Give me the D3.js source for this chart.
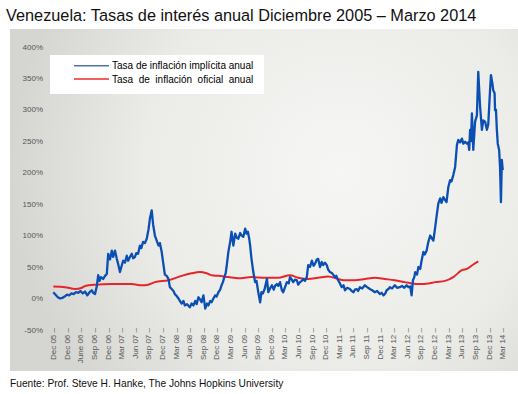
<!DOCTYPE html>
<html>
<head>
<meta charset="utf-8">
<script src="https://cdn.jsdelivr.net/npm/d3@7"></script>
<style>
  body { margin: 0; background: #fff; }
  svg { display: block; font-family: Arial, "Liberation Sans", sans-serif; }
</style>
</head>
<body>
<svg id="chart" width="518" height="394"></svg>
<script>
// quarter tick labels (as printed on the original)
const tickLabels = ['Dec 05', 'Dec 06', 'June 06', 'Sep 06', 'Dec 06', 'Mar 07', 'Jun 07', 'Sep 07', 'Dec 07',
  'Mar 08', 'Jun 08', 'Sep 08', 'Dec 08', 'Mar 09', 'Jun 09', 'Sep 09', 'Dec 09', 'Mar 10', 'Jun 10', 'Sep 10',
  'Dec 10', 'Mar 11', 'Jun 11', 'Sep 11', 'Dec 11', 'Mar 12', 'Jun 12', 'Sep 12', 'Dec 12', 'Mar 13', 'Jun 13',
  'Sep 13', 'Dec 13', 'Mar 14'];
const yTicks = [-50, 0, 50, 100, 150, 200, 250, 300, 350, 400];

// implicit annual inflation: months since Dec 2005, rate in %
const implicitMonth = [0, 0.5, 1, 1.5, 2, 2.5, 3, 3.5, 4, 4.5, 5, 5.5, 6, 6.5, 7, 7.5, 8, 8.5, 8.8, 9.2, 9.6, 9.9, 10.2, 10.5, 11, 11.4, 11.8,
  12.1, 12.5, 12.9, 13.2, 13.6, 14, 14.3, 14.7, 15, 15.4, 15.8, 16.2, 16.5, 16.9, 17.3, 17.6, 18, 18.3, 18.7, 19.1, 19.4, 19.8,
  20.2, 20.6, 21, 21.3, 21.7, 22, 22.4, 22.8, 23.2, 23.5, 23.9, 24.3, 24.6, 25, 25.4, 25.7, 26.1, 26.5, 26.8, 27.2, 27.6, 28,
  28.3, 28.7, 29, 29.5, 30.1, 30.5, 30.9, 31.3, 31.6, 32, 32.4, 32.7, 33.1, 33.5, 33.9, 34.2, 34.6, 34.9, 35.3, 35.7, 36, 36.4,
  36.8, 37.1, 37.4, 37.7, 38, 38.2, 38.6, 39, 39.3, 39.7, 40.1, 40.5, 40.8, 41.2, 41.5, 41.9, 42.3, 42.6, 42.9, 43.2, 43.4, 43.7,
  44.1, 44.5, 44.8, 45.2, 45.6, 45.9, 46.2, 46.6, 47.1, 47.4, 47.8, 48.2, 48.6, 48.9, 49.3, 49.6, 50, 50.4, 50.7, 51.1, 51.5,
  51.9, 52.2, 52.6, 52.9, 53.3, 53.7, 54, 54.4, 54.8, 55.1, 55.5, 55.9, 56.2, 56.6, 57, 57.4, 57.7, 58.1, 58.4, 58.8, 59.2, 59.5,
  59.9, 60.3, 60.6, 61, 61.5, 62.1, 62.4, 62.8, 63.2, 63.6, 64, 64.3, 64.8, 65.4, 65.8, 66.2, 66.5, 66.9, 67.2, 67.6, 68.1, 68.7,
  69.2, 69.8, 70.3, 70.9, 71.4, 72, 72.4, 72.8, 73.2, 73.5, 73.9, 74.2, 74.7, 75.3, 75.8, 76.4, 76.9, 77.4, 77.9, 78.3, 78.7, 79,
  79.3, 79.6, 79.8, 80.2, 80.5, 80.9, 81.2, 81.6, 81.9, 82.3, 82.7, 83.1, 83.5, 83.8, 84.2, 84.5, 84.9, 85.3, 85.6, 86, 86.4,
  86.7, 87.1, 87.5, 87.8, 88.2, 88.6, 89, 89.3, 89.7, 90.1, 90.4, 90.8, 91.2, 91.5, 91.7, 91.9, 92.1, 92.3, 92.6, 93, 93.4, 93.7,
  94.1, 94.5, 94.8, 95.2, 95.6, 95.9, 96.3, 96.5, 96.8, 97, 97.3, 97.4, 97.6, 97.8, 98, 98.3, 98.5, 98.7, 98.9, 99.1];
const implicitRate = [10, 6, 2, 0, 1, 3, 6, 5, 8, 7, 10, 9, 12, 8, 11, 5, 10, 13, 9, 7, 20, 37, 28, 34, 31, 36, 39,
  71, 62, 76, 66, 76, 63, 55, 42, 50, 60, 57, 68, 60, 66, 71, 64, 66, 72, 71, 84, 80, 90,
  88, 95, 110, 127, 140, 118, 100, 92, 84, 88, 74, 53, 38, 36, 31, 18, 15, 12, 7, 4, 0, -5,
  -8, -4, -11, -9, -14, -8, -11, -4, -9, 2, -2, -6, 5, -16, -8, -11, -4, -6, 0, 5, 3, 10,
  14, 21, 26, 34, 40, 50, 74, 90, 106, 84, 103, 96, 95, 104, 100, 98, 111, 103, 106, 95, 84, 63,
  42, 26, 28, 10, -6, 10, 8, 15, 31, 10, 16, 21, 14, 20, 23, 20, 26, 13, 10, 18, 26,
  24, 34, 30, 26, 30, 29, 22, 26, 28, 31, 28, 34, 53, 50, 60, 52, 55, 62, 63, 50, 58, 53,
  57, 53, 46, 42, 40, 34, 36, 29, 24, 18, 21, 13, 17, 15, 12, 10, 14, 15, 12, 18, 16, 21,
  18, 15, 13, 10, 12, 7, 9, 5, 8, 13, 15, 18, 16, 21, 17, 18, 20, 17, 21, 18, 19, 5,
  29, 34, 42, 38, 50, 47, 60, 74, 70, 76, 90, 100, 95, 92, 113, 130, 151, 159, 152, 161, 156,
  153, 177, 188, 186, 196, 209, 244, 252, 248, 254, 246, 249, 246, 248, 236, 268, 250, 294, 236, 281, 291, 360,
  305, 268, 283, 281, 268, 276, 331, 355, 342, 331, 326, 299, 300, 268, 246, 236, 209, 153, 220, 204];

// official annual inflation
const officialMonth = [0, 2.6, 4.8, 6.3, 7, 9.2, 12.9, 15.1, 17.3, 19.5, 20.9, 22.4, 25.4, 28.3, 30.5, 32.3, 33.8, 34.9,
  36.4, 38.6, 40.8, 43.7, 46.7, 49.6, 52.2, 54, 56.2, 58.4, 60.6, 62.8, 64, 66.5, 68.7, 70.9, 73.1, 75.3, 77.5, 79,
  80.8, 82.7, 84.2, 86.4, 88.2, 90.1, 91.2, 92.6, 93.7];
const officialRate = [19, 18, 15, 17, 20, 22, 23, 23, 23, 21, 22, 26, 29, 36, 40, 42, 40, 37,
  36, 34, 32, 34, 33, 33, 37, 33, 31, 33, 35, 31, 29, 29, 31, 33, 31, 29, 26, 24,
  23, 24, 26, 28, 34, 45, 47, 54, 59];

const seriesNames = ['Tasa de inflación implícita anual', 'Tasa de inflación oficial anual'];
const seriesColors = ['#0b4fb3', '#e5262b'];
const legendColors = ['#4f74a8', '#ee2a2a'];

const svg = d3.select('#chart');

//background panel
const defs = svg.append('defs');
const grad = defs.append('radialGradient')
  .attr('id', 'bg')
  .attr('gradientUnits', 'userSpaceOnUse')
  .attr('cx', 340).attr('cy', 170).attr('r', 330);
grad.append('stop').attr('offset', '0%').attr('stop-color', '#f6f6f4');
grad.append('stop').attr('offset', '60%').attr('stop-color', '#ebebe8');
grad.append('stop').attr('offset', '100%').attr('stop-color', '#d5d6d1');

svg.append('rect')
  .attr('x', 10).attr('y', 29)
  .attr('width', 508).attr('height', 342)
  .attr('fill', 'url(#bg)');

//title and source
svg.append('text')
  .attr('x', 6).attr('y', 21)
  .attr('font-size', 16.3)
  .attr('fill', '#111')
  .text('Venezuela: Tasas de interés anual Diciembre 2005 – Marzo 2014');

svg.append('text')
  .attr('x', 10).attr('y', 387)
  .attr('font-size', 10.2)
  .attr('fill', '#111')
  .text('Fuente: Prof. Steve H. Hanke, The Johns Hopkins University');

//scales
const x = d3.scaleLinear().domain([0, 99]).range([53.3, 502.3]);
const y = d3.scaleLinear().domain([0, 400]).range([298.5, 46.7]);

//y labels
svg.append('g')
  .selectAll('text')
  .data(yTicks)
  .enter()
  .append('text')
    .attr('x', 43)
    .attr('y', d => y(d))
    .attr('dy', '0.35em')
    .attr('text-anchor', 'end')
    .attr('font-size', 8)
    .attr('fill', '#555')
    .text(d => d + '%');

//x labels, rotated
svg.append('g')
  .selectAll('text')
  .data(tickLabels)
  .enter()
  .append('text')
    .attr('transform', (d, i) => `translate(${x(i * 3)}, 328) rotate(-90)`)
    .attr('dy', '0.35em')
    .attr('text-anchor', 'end')
    .attr('font-size', 8)
    .attr('fill', '#555')
    .text(d => d + ' –');

//lines
const line = d3.line()
  .x(d => x(d[0]))
  .y(d => y(d[1]));

svg.append('path')
  .datum(officialMonth.map((m, i) => [m, officialRate[i]]))
  .attr('d', line.curve(d3.curveMonotoneX))
  .attr('fill', 'none')
  .attr('stroke', seriesColors[1])
  .attr('stroke-width', 2);

svg.append('path')
  .datum(implicitMonth.map((m, i) => [m, implicitRate[i]]))
  .attr('d', line.curve(d3.curveLinear))
  .attr('fill', 'none')
  .attr('stroke', seriesColors[0])
  .attr('stroke-width', 2.3)
  .attr('stroke-linejoin', 'round');

//legend
const legend = svg.append('g');
legend.append('rect')
  .attr('x', 50).attr('y', 55)
  .attr('width', 214).attr('height', 39)
  .attr('fill', '#fff');

const items = legend.selectAll('.item')
  .data(seriesNames)
  .enter()
  .append('g')
    .attr('transform', (d, i) => `translate(0, ${65.7 + i * 13.3})`);
items.append('line')
  .attr('x1', 74).attr('x2', 109)
  .attr('stroke', (d, i) => legendColors[i])
  .attr('stroke-width', 1.5);
const labels = items.append('text')
  .attr('x', 112)
  .attr('dy', '0.35em')
  .attr('font-size', 10)
  .attr('fill', '#000')
  .text(d => d);

//stretch second label's word gaps to the width of the first
const w0 = labels.nodes()[0].getComputedTextLength();
const n1 = labels.nodes()[1];
const gaps = seriesNames[1].split(' ').length - 1;
d3.select(n1).attr('word-spacing', (w0 - n1.getComputedTextLength()) / gaps);
</script>
</body>
</html>
